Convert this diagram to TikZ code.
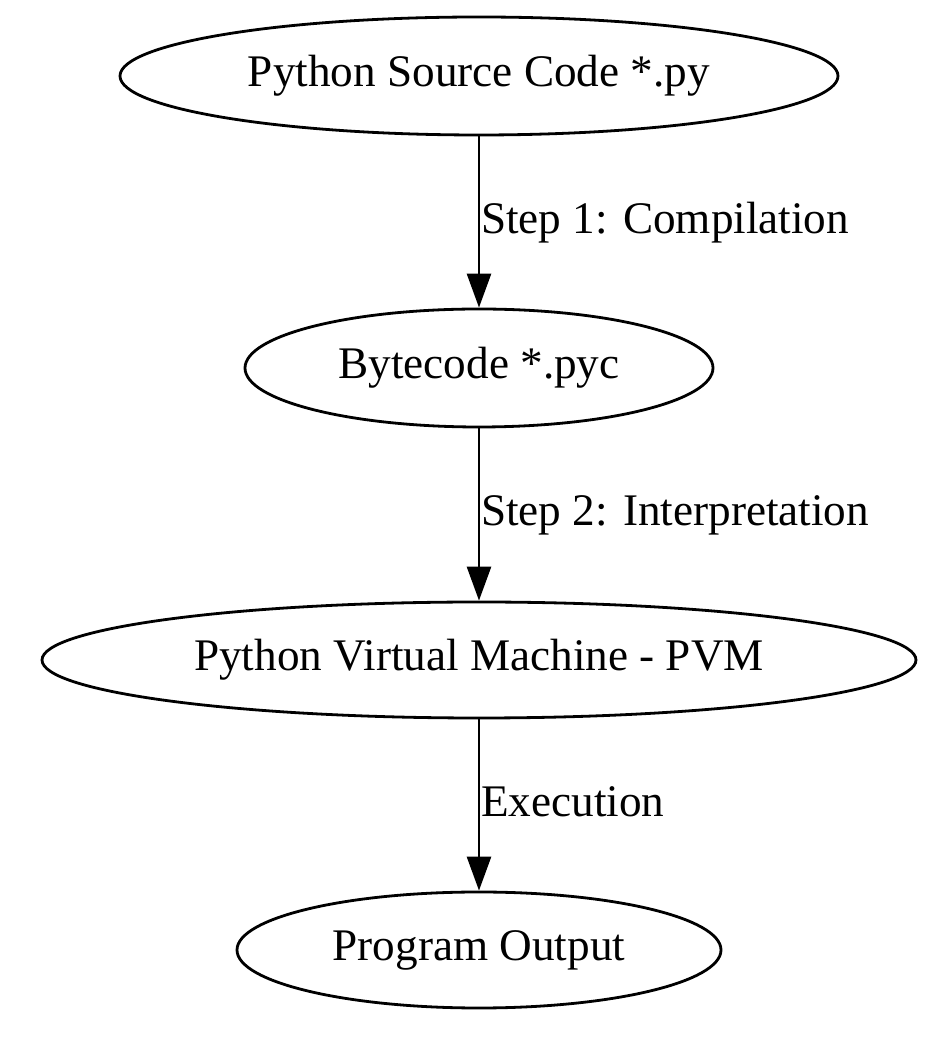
\documentclass[tikz,border=0pt]{standalone}
\usepackage{fontspec}
\setmainfont{Liberation Serif}
\usetikzlibrary{shapes.geometric,arrows.meta}
\begin{document}
\begin{tikzpicture}[x=1pt,y=1pt,
  every node/.style={font=\fontsize{45.2}{55}\selectfont},
  stage/.style={draw,ellipse,line width=2.8pt,inner sep=0pt},
  flow/.style={line width=2.8pt,-{Triangle[length=34pt,width=24pt]}},
  lab/.style={anchor=base west,inner sep=0pt}]
\useasboundingbox (0,0) rectangle (944,1042);
\node[stage,minimum width=718pt,minimum height=118pt] (src) at (479,966) {Python Source Code *.py};
\node[stage,minimum width=468pt,minimum height=118pt] (byte) at (479,674) {Bytecode *.pyc};
\node[stage,minimum width=874pt,minimum height=116pt] (pvm) at (479,382) {Python Virtual Machine - PVM};
\node[stage,minimum width=484pt,minimum height=116pt] (out) at (479,92) {Program Output};
\draw[flow] (src) -- (byte);
\node[lab] (l1) at (481,808) {Step 1: Compilation};
\draw[flow] (byte) -- (pvm);
\node[lab] (l2) at (481,516) {Step 2: Interpretation};
\draw[flow] (pvm) -- (out);
\node[lab] (l3) at (481,225) {Execution};
\end{tikzpicture}
\end{document}
